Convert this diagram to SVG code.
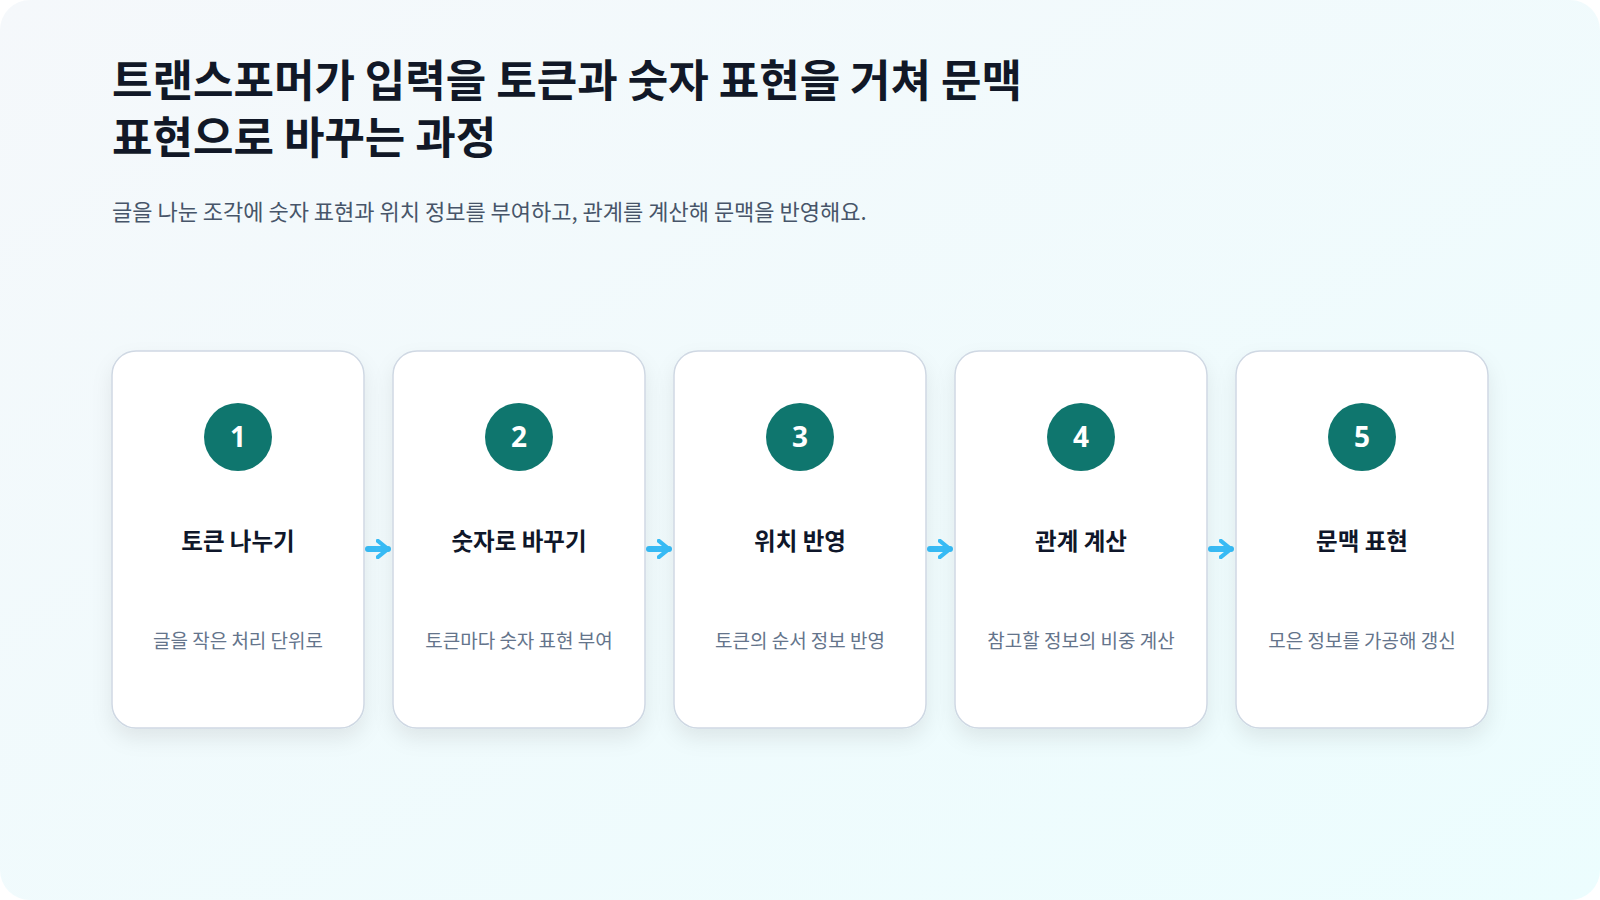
<svg xmlns="http://www.w3.org/2000/svg" width="1600" height="900" viewBox="0 0 1600 900">
<defs>
<linearGradient id="bg" x1="0" y1="0" x2="1" y2="1">
<stop offset="0" stop-color="#f5f8fb"/>
<stop offset="1" stop-color="#ecfdfe"/>
</linearGradient>
<filter id="shadow" x="-20%" y="-20%" width="140%" height="140%">
<feDropShadow dx="0" dy="10" stdDeviation="10" flood-color="#0f172a" flood-opacity="0.08"/>
</filter>
<marker id="ah" viewBox="0 0 10 10" refX="6" refY="5" markerWidth="3.4" markerHeight="3.4" orient="auto" markerUnits="strokeWidth">
<path d="M1,1 L6,5 L1,9" fill="none" stroke="#38bdf8" stroke-width="2" stroke-linecap="round" stroke-linejoin="round"/>
</marker>
<style>
.title{font-family:"Noto Sans CJK KR","Noto Sans",sans-serif;font-weight:700;font-size:44px;fill:#111827}
.sub{font-family:"Noto Sans CJK KR","Noto Sans",sans-serif;font-size:22px;fill:#475569}
.card{fill:#ffffff;stroke:#cfd8e3;stroke-width:1.5}
.num{fill:#0f766e}
.numt{font-family:"Noto Sans","Noto Sans CJK KR",sans-serif;font-weight:700;font-size:28px;fill:#ffffff}
.ct{font-family:"Noto Sans CJK KR","Noto Sans",sans-serif;font-weight:700;font-size:23.5px;fill:#0f172a}
.cd{font-family:"Noto Sans CJK KR","Noto Sans",sans-serif;font-size:19px;fill:#64748b}
.arr{stroke:#38bdf8;stroke-width:6;stroke-linecap:round;fill:none}
</style>
</defs>
<rect x="0" y="0" width="1600" height="900" fill="#ffffff"/>
<rect x="0" y="0" width="1600" height="900" rx="30" fill="url(#bg)"/>
<text class="title" x="112" y="97">트랜스포머가 입력을 토큰과 숫자 표현을 거쳐 문맥</text>
<text class="title" x="112" y="154">표현으로 바꾸는 과정</text>
<text class="sub" x="112" y="220">글을 나눈 조각에 숫자 표현과 위치 정보를 부여하고, 관계를 계산해 문맥을 반영해요.</text>
<g id="connectors">
<line class="arr" x1="368" y1="549" x2="388" y2="549" marker-end="url(#ah)"/>
<line class="arr" x1="649" y1="549" x2="669" y2="549" marker-end="url(#ah)"/>
<line class="arr" x1="930" y1="549" x2="950" y2="549" marker-end="url(#ah)"/>
<line class="arr" x1="1211" y1="549" x2="1231" y2="549" marker-end="url(#ah)"/>
</g>
<g id="node1">
<rect class="card" x="112" y="351" width="252" height="377" rx="24" filter="url(#shadow)"/>
<circle class="num" cx="238" cy="437" r="34"/>
<text class="numt" x="238" y="447" text-anchor="middle">1</text>
<text class="ct" x="238" y="550" text-anchor="middle">토큰 나누기</text>
<text class="cd" x="238" y="648" text-anchor="middle">글을 작은 처리 단위로</text>
</g>
<g id="node2">
<rect class="card" x="393" y="351" width="252" height="377" rx="24" filter="url(#shadow)"/>
<circle class="num" cx="519" cy="437" r="34"/>
<text class="numt" x="519" y="447" text-anchor="middle">2</text>
<text class="ct" x="519" y="550" text-anchor="middle">숫자로 바꾸기</text>
<text class="cd" x="519" y="648" text-anchor="middle">토큰마다 숫자 표현 부여</text>
</g>
<g id="node3">
<rect class="card" x="674" y="351" width="252" height="377" rx="24" filter="url(#shadow)"/>
<circle class="num" cx="800" cy="437" r="34"/>
<text class="numt" x="800" y="447" text-anchor="middle">3</text>
<text class="ct" x="800" y="550" text-anchor="middle">위치 반영</text>
<text class="cd" x="800" y="648" text-anchor="middle">토큰의 순서 정보 반영</text>
</g>
<g id="node4">
<rect class="card" x="955" y="351" width="252" height="377" rx="24" filter="url(#shadow)"/>
<circle class="num" cx="1081" cy="437" r="34"/>
<text class="numt" x="1081" y="447" text-anchor="middle">4</text>
<text class="ct" x="1081" y="550" text-anchor="middle">관계 계산</text>
<text class="cd" x="1081" y="648" text-anchor="middle">참고할 정보의 비중 계산</text>
</g>
<g id="node5">
<rect class="card" x="1236" y="351" width="252" height="377" rx="24" filter="url(#shadow)"/>
<circle class="num" cx="1362" cy="437" r="34"/>
<text class="numt" x="1362" y="447" text-anchor="middle">5</text>
<text class="ct" x="1362" y="550" text-anchor="middle">문맥 표현</text>
<text class="cd" x="1362" y="648" text-anchor="middle">모은 정보를 가공해 갱신</text>
</g>
</svg>
